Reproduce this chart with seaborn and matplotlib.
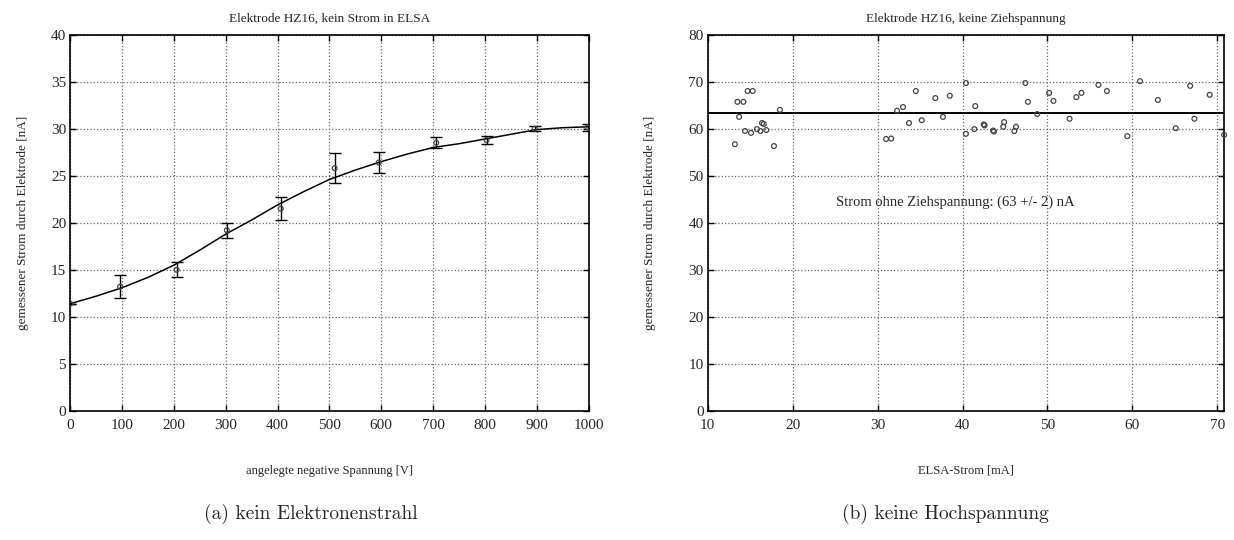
import numpy as np
import pandas as pd
import seaborn as sns
from matplotlib import pyplot as plt

# (a) current vs applied voltage, no beam in ELSA
spannung = [0, 96, 205, 302, 406, 510, 595, 706, 803, 896, 998]
strom_a = [11.4, 13.2, 15.0, 19.2, 21.5, 25.8, 26.4, 28.5, 28.8, 30.0, 30.15]
fehler_a = [0.0, 1.2, 0.8, 0.8, 1.2, 1.6, 1.1, 0.6, 0.4, 0.3, 0.35]

fit_x = [0, 50, 100, 150, 200, 250, 300, 350, 400, 450, 500,
         550, 600, 650, 700, 750, 800, 850, 900, 950, 1000]
fit_y = [11.4, 12.2, 13.1, 14.2, 15.5, 17.1, 18.8, 20.3, 21.9, 23.3, 24.6,
         25.6, 26.5, 27.3, 28.0, 28.4, 28.9, 29.4, 29.9, 30.1, 30.2]

# (b) current vs ELSA current, no extraction voltage
elsa_strom = [13.2, 13.5, 13.7, 14.2, 14.7, 15.3, 14.4, 15.1, 15.8, 16.2,
              16.4, 16.6, 16.9, 17.8, 18.5, 31.0, 31.6, 32.3, 33.0, 33.7,
              34.5, 35.2, 36.8, 37.7, 38.5, 40.4, 40.4, 41.4, 41.5, 42.5,
              42.6, 43.6, 43.7, 44.8, 44.9, 46.1, 46.3, 47.4, 47.7, 48.8,
              50.2, 50.7, 52.6, 53.4, 54.0, 56.0, 57.0, 59.4, 60.9, 63.0,
              65.1, 66.8, 67.3, 69.1, 70.8]
strom_b = [56.7, 65.7, 62.5, 65.7, 68.0, 68.0, 59.5, 59.1, 59.9, 59.5,
           61.2, 61.0, 59.7, 56.3, 64.0, 57.8, 57.9, 63.8, 64.6, 61.2,
           68.0, 61.8, 66.5, 62.5, 67.0, 69.7, 58.9, 59.9, 64.8, 60.9,
           60.7, 59.6, 59.4, 60.4, 61.4, 59.5, 60.4, 69.7, 65.7, 63.1,
           67.6, 65.9, 62.1, 66.7, 67.6, 69.3, 68.0, 58.4, 70.1, 66.1,
           60.1, 69.1, 62.1, 67.2, 58.7]
mittelwert_b = 63.3

df_a = pd.DataFrame({"x": spannung, "y": strom_a, "err": fehler_a})
df_fit = pd.DataFrame({"x": fit_x, "y": fit_y})
df_b = pd.DataFrame({"x": elsa_strom, "y": strom_b})

sns.set_style("ticks")
plt.rcParams["font.family"] = ["Liberation Serif", "DejaVu Serif"]

GRID_PARAMS = {"linestyle": ":", "linewidth": 0.9, "color": "#666666"}
TICK_PARAMS = {"direction": "in", "length": 4, "width": 1.0, "labelsize": 11,
               "top": True, "right": True, "color": "black"}
MARKER = {"marker": "o", "s": 12, "facecolor": "none", "edgecolor": "#444444",
          "linewidth": 0.9}

fig = plt.figure(figsize=(12.34, 5.40), dpi=100)
ax1 = fig.add_axes([0.057, 0.239, 0.420, 0.697])
ax2 = fig.add_axes([0.5735, 0.239, 0.4185, 0.697])

# left panel
ax1.errorbar(df_a["x"], df_a["y"], yerr=df_a["err"], fmt="none",
             ecolor="black", elinewidth=1.0, capsize=4, capthick=1.0, zorder=3)
sns.lineplot(data=df_fit, x="x", y="y", ax=ax1, color="black", lw=1.1, zorder=4)
sns.scatterplot(data=df_a, x="x", y="y", ax=ax1, zorder=5, **MARKER)
ax1.set_xlim(0, 1000)
ax1.set_ylim(0, 40)
ax1.set_xticks(range(0, 1001, 100))
ax1.set_yticks(range(0, 41, 5))
ax1.set_title("Elektrode HZ16, kein Strom in ELSA", fontsize=9.5, pad=9)
ax1.set_xlabel("angelegte negative Spannung [V]", fontsize=9, labelpad=24)
ax1.set_ylabel("gemessener Strom durch Elektrode [nA]", fontsize=9.5, labelpad=15.5)

# right panel
sns.scatterplot(data=df_b, x="x", y="y", ax=ax2, zorder=5, clip_on=False, **MARKER)
ax2.axhline(mittelwert_b, color="black", lw=1.4, zorder=4)
ax2.text(39.2, 44.3, "Strom ohne Ziehspannung: (63 +/- 2) nA",
         ha="center", va="center", fontsize=10.5)
ax2.set_xlim(10, 70.8)
ax2.set_ylim(0, 80)
ax2.set_xticks(range(10, 71, 10))
ax2.set_yticks(range(0, 81, 10))
ax2.set_title("Elektrode HZ16, keine Ziehspannung", fontsize=9.5, pad=9)
ax2.set_xlabel("ELSA-Strom [mA]", fontsize=9, labelpad=24)
ax2.set_ylabel("gemessener Strom durch Elektrode [nA]", fontsize=9.5, labelpad=23)

for ax in (ax1, ax2):
    ax.grid(True, which="major", **GRID_PARAMS)
    ax.tick_params(axis="both", **TICK_PARAMS)
    ax.tick_params(axis="x", pad=5.5)
    ax.tick_params(axis="y", pad=3)
    for spine in ax.spines.values():
        spine.set_linewidth(1.2)
        spine.set_color("black")

fig.text(0.252, 0.048, "(a) kein Elektronenstrahl", ha="center", va="center",
         fontsize=14, family="cmr10")
fig.text(0.766, 0.048, "(b) keine Hochspannung", ha="center", va="center",
         fontsize=14, family="cmr10")

plt.savefig("out.png", dpi=100)
plt.close(fig)
